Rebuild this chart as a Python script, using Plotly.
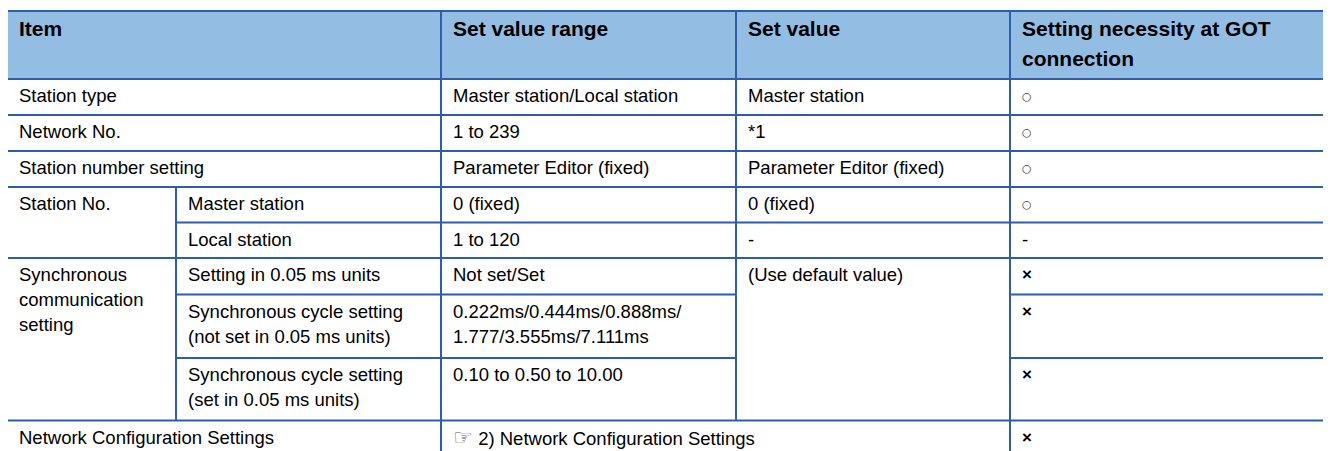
import plotly.graph_objects as go

# ---------------- data (table content) ----------------
header_texts = ["Item", "Set value range", "Set value", "Setting necessity at GOT<br>connection"]
header_cols = [0, 2, 3, 4]
header_spans = [2, 1, 1, 1]

# each entry: (row, rowspan, colspan, text); rows start at 1 below header
item_cells = [
    (1, 1, 2, "Station type"),
    (2, 1, 2, "Network No."),
    (3, 1, 2, "Station number setting"),
    (4, 2, 1, "Station No."),
    (6, 3, 1, "Synchronous<br>communication<br>setting"),
    (9, 1, 2, "Network Configuration Settings"),
]
sub_item_cells = [
    (4, 1, 1, "Master station"),
    (5, 1, 1, "Local station"),
    (6, 1, 1, "Setting in 0.05 ms units"),
    (7, 1, 1, "Synchronous cycle setting<br>(not set in 0.05 ms units)"),
    (8, 1, 1, "Synchronous cycle setting<br>(set in 0.05 ms units)"),
]
range_cells = [
    (1, 1, 1, "Master station/Local station"),
    (2, 1, 1, "1 to 239"),
    (3, 1, 1, "Parameter Editor (fixed)"),
    (4, 1, 1, "0 (fixed)"),
    (5, 1, 1, "1 to 120"),
    (6, 1, 1, "Not set/Set"),
    (7, 1, 1, "0.222ms/0.444ms/0.888ms/<br>1.777/3.555ms/7.111ms"),
    (8, 1, 1, "0.10 to 0.50 to 10.00"),
    (9, 1, 2, "\u261e 2) Network Configuration Settings"),
]
value_cells = [
    (1, 1, 1, "Master station"),
    (2, 1, 1, "*1"),
    (3, 1, 1, "Parameter Editor (fixed)"),
    (4, 1, 1, "0 (fixed)"),
    (5, 1, 1, "-"),
    (6, 3, 1, "(Use default value)"),
]
necessity_cells = [
    (1, 1, 1, "\u25cb"),
    (2, 1, 1, "\u25cb"),
    (3, 1, 1, "\u25cb"),
    (4, 1, 1, "\u25cb"),
    (5, 1, 1, "-"),
    (6, 1, 1, "\u00d7"),
    (7, 1, 1, "\u00d7"),
    (8, 1, 1, "\u00d7"),
    (9, 1, 1, "\u00d7"),
]
column_cells = [(0, item_cells), (1, sub_item_cells), (2, range_cells), (3, value_cells), (4, necessity_cells)]

# ---------------- layout / style ----------------
W, H = 1331, 451
PAGE_OFF = 8          # default page margin around the plot
X0, Y0 = 7, 11
col_widths = [169, 265, 295, 274, 321]
row_heights = [68, 36, 36, 36, 35.5, 35.5, 36.5, 63.5, 62.5, 36]
BORDER = "#2E5EAA"
HEAD_FILL = "#93BDE3"
FONT = "Liberation Sans, Arial, sans-serif"
BODY_FS = 18.5
HEAD_FS = 21
PAD_X = 10.5

col_x = [X0]
for w in col_widths:
    col_x.append(col_x[-1] + w)
row_y = [Y0]
for h in row_heights:
    row_y.append(row_y[-1] + h)
RIGHT = col_x[-1]

shapes = []
annotations = []

# header background
shapes.append(dict(type="rect", xref="x", yref="y", x0=X0, x1=RIGHT + 20, y0=row_y[0], y1=row_y[1],
                   fillcolor=HEAD_FILL, line=dict(width=0), layer="below"))


def add_cell(row, rowspan, col, colspan, text, fs, bold, base_off, line_gap, symbol=None):
    cx0, cx1 = col_x[col], col_x[col + colspan]
    cy0, cy1 = row_y[row], row_y[row + rowspan]
    right_edge = cx1 + 20 if cx1 >= RIGHT else cx1
    shapes.append(dict(type="line", xref="x", yref="y", x0=cx0, x1=right_edge, y0=cy0, y1=cy0,
                       line=dict(color=BORDER, width=2)))
    if cx1 < RIGHT:
        shapes.append(dict(type="line", xref="x", yref="y", x0=cx1, x1=cx1, y0=cy0, y1=cy1,
                           line=dict(color=BORDER, width=2)))
    if row + rowspan == len(row_heights):
        shapes.append(dict(type="line", xref="x", yref="y", x0=cx0, x1=right_edge, y0=cy1, y1=cy1,
                           line=dict(color=BORDER, width=2)))
    for i, line in enumerate(text.split("<br>")):
        baseline = cy0 + base_off + i * line_gap
        f = dict(family=FONT, size=fs, color="#000000")
        yc = baseline - 0.35 * fs
        if symbol == "circle":
            f = dict(family="DejaVu Sans", size=11, color="#333333")
            yc = cy0 + 17.5
        elif symbol == "cross":
            f = dict(family=FONT, size=17, color="#000000")
            yc = cy0 + 16.5
        line = line.replace("\u261e", "<span style=\"font-size:22px;color:#555555\">\u261e</span>")
        txt = "<b>" + line + "</b>" if bold else line
        annotations.append(dict(xref="x", yref="y", x=cx0 + PAD_X, y=yc, text=txt,
                                showarrow=False, xanchor="left", yanchor="middle",
                                font=f, borderpad=0))


for t, c, s in zip(header_texts, header_cols, header_spans):
    add_cell(0, 1, c, s, t, HEAD_FS, True, 24.7, 30)

for col, cells in column_cells:
    for (r, rs, cs, t) in cells:
        sym = None
        if t == "\u25cb":
            sym = "circle"
        elif t == "\u00d7":
            sym = "cross"
        add_cell(r, rs, col, cs, t, BODY_FS, sym == "cross", 23.3, 25, symbol=sym)

fig = go.Figure()
fig.add_trace(go.Scatter(x=[X0, RIGHT], y=[row_y[0], row_y[-1]], mode="markers",
                         marker=dict(opacity=0), hoverinfo="skip", showlegend=False))
fig.update_layout(
    width=W, height=H,
    margin=dict(l=0, r=0, t=0, b=0),
    paper_bgcolor="white", plot_bgcolor="white",
    xaxis=dict(range=[PAGE_OFF, W + PAGE_OFF], visible=False, fixedrange=True),
    yaxis=dict(range=[H + PAGE_OFF, PAGE_OFF], visible=False, fixedrange=True),
    shapes=shapes, annotations=annotations,
    showlegend=False,
)
fig.write_html("out.html")
